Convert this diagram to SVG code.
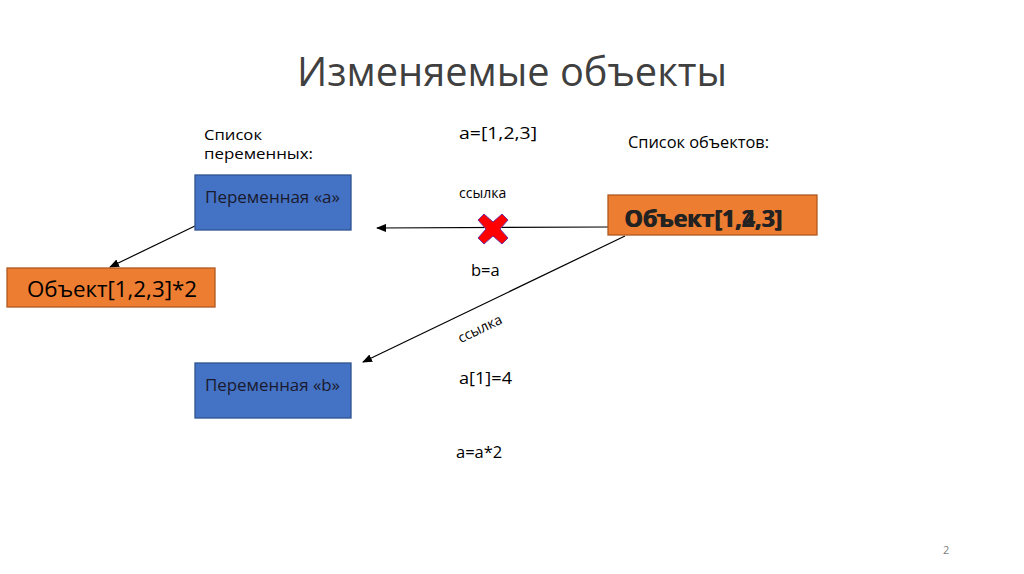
<svg xmlns="http://www.w3.org/2000/svg" width="1024" height="574" viewBox="0 0 1024 574">
<style>
text{font-family:"Open Sans","Liberation Sans",sans-serif;fill:#000}
.lbl{font-size:16.5px}
.hd{font-size:15px}
.small{font-size:14px}
.blue{fill:#4472C4;stroke:#2F528F;stroke-width:1.3}
.orange{fill:#ED7D31;stroke:#AE5A21;stroke-width:1.3}
.conn{stroke:#000;stroke-width:1.2;fill:none;marker-end:url(#ah)}
</style>
<defs>
<marker id="ah" markerWidth="10" markerHeight="8" refX="9" refY="4" orient="auto" markerUnits="userSpaceOnUse">
<path d="M0,0 L10,4 L0,8 Z" fill="#000"/>
</marker>
</defs>
<rect width="1024" height="574" fill="#fff"/>
<text x="512" y="86" text-anchor="middle" style="font-size:40px;fill:#404040" textLength="430" lengthAdjust="spacingAndGlyphs">Изменяемые объекты</text>
<text class="hd" x="204" y="140" textLength="58" lengthAdjust="spacingAndGlyphs">Список</text>
<text class="hd" x="204" y="159" textLength="109" lengthAdjust="spacingAndGlyphs">переменных:</text>
<text class="lbl" x="459" y="139" textLength="78" lengthAdjust="spacingAndGlyphs">a=[1,2,3]</text>
<text class="lbl" x="628" y="148" textLength="141" lengthAdjust="spacingAndGlyphs">Список объектов:</text>
<text class="small" x="459" y="198">ссылка</text>
<text class="lbl" x="471" y="276">b=a</text>
<text class="lbl" x="459" y="384" textLength="53" lengthAdjust="spacingAndGlyphs">a[1]=4</text>
<text class="lbl" x="456" y="458">a=a*2</text>
<text x="943" y="554" style="font-size:11px;fill:#7f7f7f">2</text>
<g id="connectors">
<line class="conn" x1="608" y1="227" x2="377" y2="228"/>
<line class="conn" x1="197" y1="225" x2="110" y2="267"/>
<line class="conn" x1="625" y1="236" x2="363" y2="362"/>
<text class="small" transform="translate(482,333) rotate(-25.7)" text-anchor="middle">ссылка</text>
<path id="cross" d="M484,214 L493,222 L502,214 L508,220 L500,229 L508,238 L502,244 L493,236 L484,244 L478,238 L486,229 L478,220 Z" fill="#FF0000" stroke="#7030A0" stroke-width="1" stroke-linejoin="round"/>
</g>
<g id="varA">
<rect class="blue" x="195" y="175" width="156" height="55"/>
<text class="lbl" x="205" y="203" style="fill:#1a1a2e" textLength="135" lengthAdjust="spacingAndGlyphs">Переменная «a»</text>
</g>
<g id="varB">
<rect class="blue" x="195" y="363" width="156" height="55"/>
<text class="lbl" x="205" y="391" style="fill:#1a1a2e" textLength="135" lengthAdjust="spacingAndGlyphs">Переменная «b»</text>
</g>
<g id="obj123">
<rect class="orange" x="608" y="195" width="209" height="40"/>
<text x="624" y="227" style="font-size:23px;font-weight:bold;fill:#222" textLength="158" lengthAdjust="spacingAndGlyphs">Объект[1,2,3]</text>
<text x="625" y="227" style="font-size:23px;font-weight:bold;fill:#222" textLength="158" lengthAdjust="spacingAndGlyphs">Объект[1,4,3]</text>
</g>
<g id="obj2">
<rect class="orange" x="7" y="268" width="208" height="39"/>
<text x="27" y="297" style="font-size:22px" textLength="170" lengthAdjust="spacingAndGlyphs">Объект[1,2,3]*2</text>
</g>
</svg>
